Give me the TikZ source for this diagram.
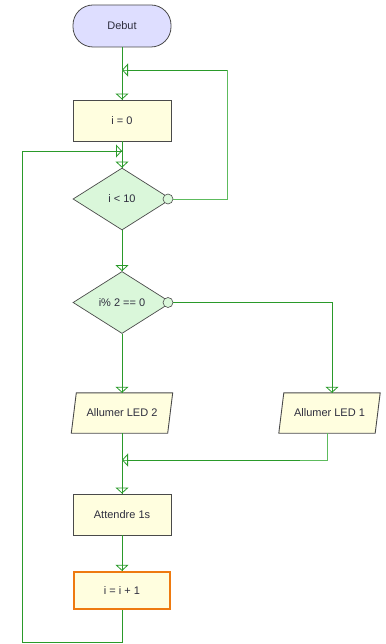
\documentclass[tikz,border=0pt]{standalone}
\usepackage{fontspec}
\setmainfont{Liberation Sans}
\usetikzlibrary{arrows.meta,shapes.geometric,backgrounds,calc}
\definecolor{flowgreen}{HTML}{2A9A2A}
\definecolor{lightflow}{HTML}{5DBB5D}
\definecolor{boxfill}{HTML}{FFFEDF}
\definecolor{startfill}{HTML}{DEDEFF}
\definecolor{decfill}{HTML}{DAF7DA}
\definecolor{edgegray}{HTML}{4A4A4A}
\definecolor{txt}{HTML}{2E2E3E}
\definecolor{incorange}{HTML}{EE7A10}
\tikzset{
  x=1pt, y=-1pt,
  every node/.style={font=\fontsize{11}{13}\selectfont, text=txt},
  startbox/.style={draw=edgegray, fill=startfill, rounded corners=20pt, minimum width=98pt, minimum height=42pt, line width=0.8pt},
  procbox/.style={draw=edgegray, fill=boxfill, minimum width=98pt, minimum height=41pt, line width=0.9pt},
  incbox/.style={draw=incorange, fill=boxfill, minimum width=96pt, minimum height=37pt, line width=2.2pt},
  decbox/.style={diamond, draw=edgegray, fill=decfill, aspect=1.6, inner sep=0pt, minimum width=98pt, minimum height=62pt, line width=0.7pt},
  iobox/.style={draw=none, minimum width=96pt, minimum height=40pt},
  ioshape/.style={draw=edgegray, fill=boxfill, line width=0.9pt},
  conn/.style={draw=flowgreen, line width=0.9pt},
  lconn/.style={draw=lightflow, line width=0.9pt},
  tip/.style={draw=flowgreen, line width=0.8pt, -{Triangle[open, width=13pt, length=6pt]}},
  dot/.style={circle, draw=edgegray, fill=decfill, inner sep=0pt, minimum size=10pt, line width=0.6pt},
}
\begin{document}
\begin{tikzpicture}
\useasboundingbox (0,0) rectangle (385,644);
% nodes
\node[startbox] (debut) at (122,26) {Debut};
\node[procbox] (init) at (122,120.5) {i = 0};
\node[decbox] (cond1) at (122,199) {i < 10};
\node[decbox] (cond2) at (122,302.5) {i\% 2 == 0};
\node[iobox] (led2) at (122,413) {Allumer LED 2};
\node[iobox] (led1) at (329.5,413) {Allumer LED 1};
\node[procbox] (wait) at (122,514.5) {Attendre 1s};
\node[incbox] (inc) at (122,590.5) {i = i + 1};
\begin{scope}[on background layer]
  \path[ioshape] ([xshift=-2.5pt]led2.south west) -- ([xshift=-2.5pt]led2.south east) -- ([xshift=2.5pt]led2.north east) -- ([xshift=2.5pt]led2.north west) -- cycle;
  \path[ioshape] ([xshift=-2.5pt]led1.south west) -- ([xshift=-2.5pt]led1.south east) -- ([xshift=2.5pt]led1.north east) -- ([xshift=2.5pt]led1.north west) -- cycle;
\end{scope}
\node[dot] (d1) at (168,199) {};
\node[dot] (d2) at (168,302.5) {};
% merge points and corners
\coordinate (m1) at (122,70);
\coordinate (m2) at (122,151);
\coordinate (m3) at (122,460);
\coordinate (r1) at (227,70);
\coordinate (b1) at (122,642);
\coordinate (b2) at (22,642);
\coordinate (l1) at (22,151);
% straight connectors
\foreach \a/\b in {debut/init, init/cond1, cond1/cond2, cond2/led2, led2/wait, wait/inc}{
  \path[conn] (\a.south) -- (\b.north);
  \path[tip] (\a.south) -- (\b.north);
}
% loop back from cond1 (false) to merge m1
\path[lconn] (d1.east) -| (r1) -- (m1);
\path[tip] (r1) -- (m1);
% loop back from inc to merge m2
\path[conn] (inc.south) -- (b1) -- (b2) -- (l1) -- (m2);
\path[tip] (l1) -- (m2);
% cond2 false to led1
\path[conn] (d2.east) -| ([xshift=2.5pt]led1.north);
\path[tip] ([xshift=2.5pt,yshift=20pt]led1.north) -- ([xshift=2.5pt]led1.north);
% led1 to merge m3
\path[lconn] ([xshift=-2.5pt]led1.south) |- (m3);
\path[tip] ([xshift=-30pt]led1.south |- m3) -- (m3);
\end{tikzpicture}
\end{document}
